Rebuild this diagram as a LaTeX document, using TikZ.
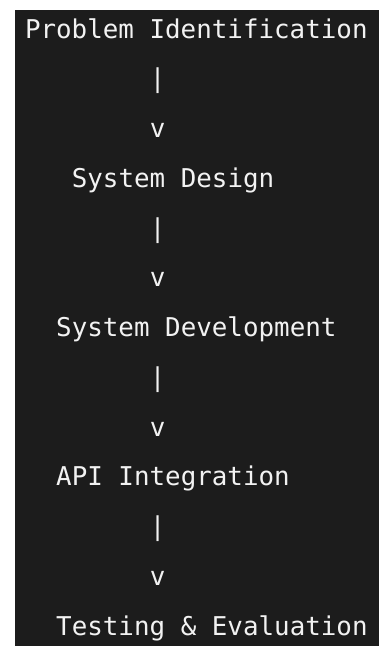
\documentclass[tikz,border=0pt]{standalone}
\usepackage{fontspec}
\setmonofont{DejaVu Sans Mono}
\usepackage{xcolor}
\usetikzlibrary{positioning}

\begin{document}
\begin{tikzpicture}[x=0.75pt, y=-0.75pt]
  \definecolor{termbg}{HTML}{1C1C1C}
  \definecolor{termfg}{HTML}{F2F2F2}
  \tikzset{
    stage/.style={anchor=base west, inner sep=0pt, outer sep=0pt,
      font=\ttfamily\fontsize{19.4pt}{23pt}\selectfont, text=termfg},
    glyph/.style={stage}
  }
  \useasboundingbox (0,0) rectangle (379,646);
  \fill[termbg] (15,10) rectangle (379,646);
  % one text line every 49.75px, one column every 15.6px
  \node[stage] (pi)   at (25,38)      {Problem Identification};
  \node[stage] (sd)   at (71.8,187.25) {System Design};
  \node[stage] (sdev) at (56.2,336.5)  {System Development};
  \node[stage] (api)  at (56.2,485.75) {API Integration};
  \node[stage] (te)   at (56.2,635)    {Testing \& Evaluation};
  % ascii arrows between the stages
  \foreach \k/\y in {1/87.75, 2/237, 3/386.25, 4/535.5} {
    \node[glyph] (bar\k) at (149.8,\y) {|};
    \node[glyph] (tip\k) at (149.8,\y+49.75) {v};
  }
\end{tikzpicture}
\end{document}
